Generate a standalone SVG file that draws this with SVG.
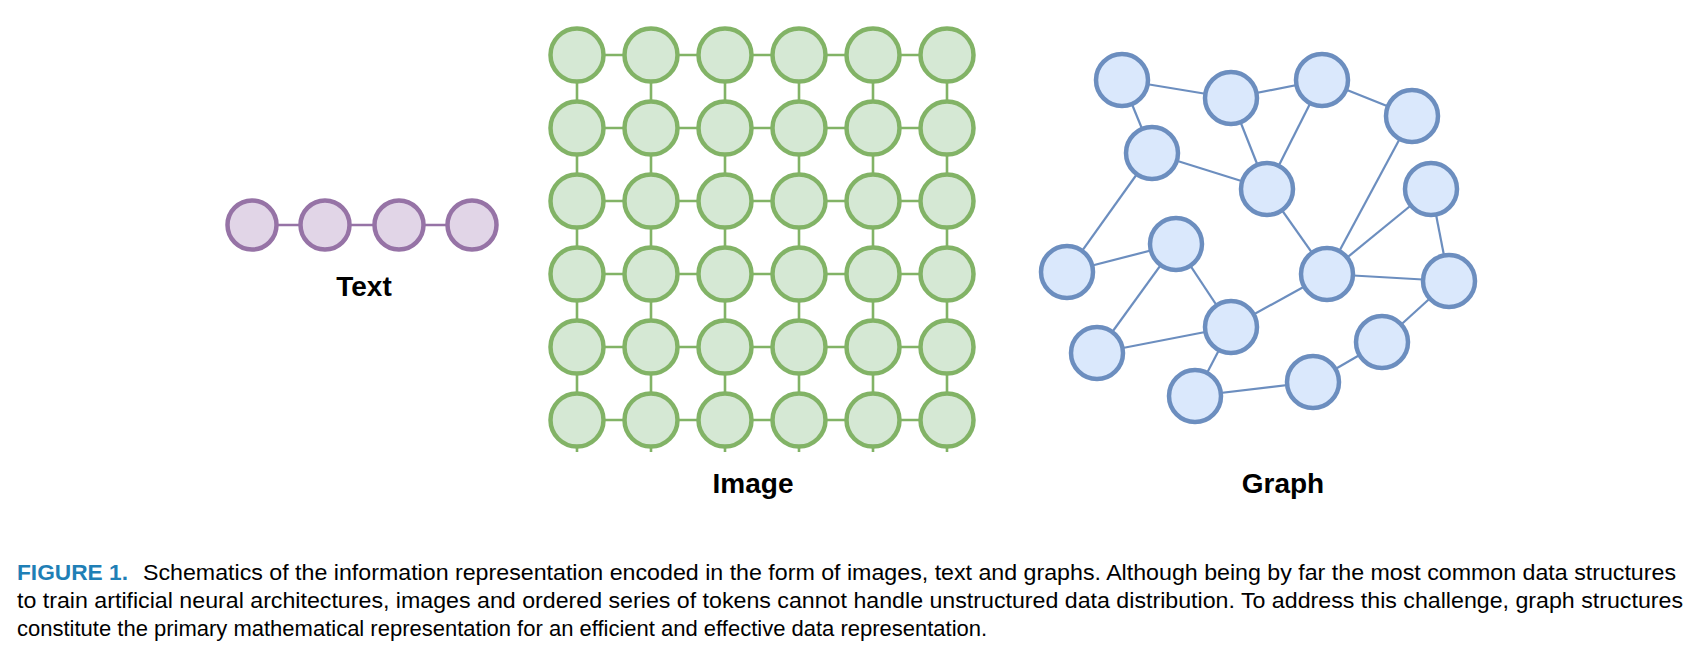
<svg xmlns="http://www.w3.org/2000/svg" width="1706" height="662" viewBox="0 0 1706 662">
<style>
.bg{fill:#ffffff}
.tn{fill:#e1d5e7;stroke:#9673a6;stroke-width:4.5}
.tl{stroke:#9673a6;stroke-width:2.6;fill:none}
.gn{fill:#d5e8d4;stroke:#82b366;stroke-width:4.5}
.gl{stroke:#82b366;stroke-width:2.6;fill:none}
.bn{fill:#dae8fc;stroke:#6c8ebf;stroke-width:4.5}
.bl{stroke:#6c8ebf;stroke-width:2.2;fill:none}
.lab{font-family:"Liberation Sans",Arial,sans-serif;font-weight:bold;font-size:28px;fill:#000;text-anchor:middle}
.cap{font-family:"Liberation Sans",Arial,sans-serif;font-size:22px;fill:#000}
.fig{font-weight:bold;fill:#1f7fb6}
</style>
<rect class="bg" x="0" y="0" width="1706" height="662"/>
<g id="connectors">
  <g id="text-edges">
    <line class="tl" x1="252" y1="225" x2="472" y2="225"/>
  </g>
  <g id="image-edges">
    <line class="gl" x1="577" y1="55" x2="947" y2="55"/>
    <line class="gl" x1="577" y1="128" x2="947" y2="128"/>
    <line class="gl" x1="577" y1="201" x2="947" y2="201"/>
    <line class="gl" x1="577" y1="274" x2="947" y2="274"/>
    <line class="gl" x1="577" y1="347" x2="947" y2="347"/>
    <line class="gl" x1="577" y1="420" x2="947" y2="420"/>
    <line class="gl" x1="577" y1="55" x2="577" y2="452"/>
    <line class="gl" x1="651" y1="55" x2="651" y2="452"/>
    <line class="gl" x1="725" y1="55" x2="725" y2="452"/>
    <line class="gl" x1="799" y1="55" x2="799" y2="452"/>
    <line class="gl" x1="873" y1="55" x2="873" y2="452"/>
    <line class="gl" x1="947" y1="55" x2="947" y2="452"/>
  </g>
  <g id="graph-edges">
    <line class="bl" x1="1122" y1="80" x2="1231" y2="98"/>
    <line class="bl" x1="1231" y1="98" x2="1322" y2="80"/>
    <line class="bl" x1="1322" y1="80" x2="1412" y2="116"/>
    <line class="bl" x1="1122" y1="80" x2="1152" y2="153"/>
    <line class="bl" x1="1231" y1="98" x2="1267" y2="189"/>
    <line class="bl" x1="1322" y1="80" x2="1267" y2="189"/>
    <line class="bl" x1="1152" y1="153" x2="1267" y2="189"/>
    <line class="bl" x1="1152" y1="153" x2="1067" y2="272"/>
    <line class="bl" x1="1412" y1="116" x2="1327" y2="274"/>
    <line class="bl" x1="1431" y1="189" x2="1327" y2="274"/>
    <line class="bl" x1="1431" y1="189" x2="1449" y2="281"/>
    <line class="bl" x1="1267" y1="189" x2="1327" y2="274"/>
    <line class="bl" x1="1327" y1="274" x2="1449" y2="281"/>
    <line class="bl" x1="1067" y1="272" x2="1176" y2="244"/>
    <line class="bl" x1="1176" y1="244" x2="1097" y2="353"/>
    <line class="bl" x1="1176" y1="244" x2="1231" y2="327"/>
    <line class="bl" x1="1097" y1="353" x2="1231" y2="327"/>
    <line class="bl" x1="1231" y1="327" x2="1327" y2="274"/>
    <line class="bl" x1="1231" y1="327" x2="1195" y2="396"/>
    <line class="bl" x1="1195" y1="396" x2="1313" y2="382"/>
    <line class="bl" x1="1313" y1="382" x2="1382" y2="342"/>
    <line class="bl" x1="1382" y1="342" x2="1449" y2="281"/>
  </g>
</g>
<g id="text-nodes">
  <g id="t1"><circle class="tn" cx="252" cy="225" r="24.5"/></g>
  <g id="t2"><circle class="tn" cx="325" cy="225" r="24.5"/></g>
  <g id="t3"><circle class="tn" cx="399" cy="225" r="24.5"/></g>
  <g id="t4"><circle class="tn" cx="472" cy="225" r="24.5"/></g>
</g>
<g id="image-nodes">
  <g id="i11"><circle class="gn" cx="577" cy="55" r="26.5"/></g>
  <g id="i12"><circle class="gn" cx="651" cy="55" r="26.5"/></g>
  <g id="i13"><circle class="gn" cx="725" cy="55" r="26.5"/></g>
  <g id="i14"><circle class="gn" cx="799" cy="55" r="26.5"/></g>
  <g id="i15"><circle class="gn" cx="873" cy="55" r="26.5"/></g>
  <g id="i16"><circle class="gn" cx="947" cy="55" r="26.5"/></g>
  <g id="i21"><circle class="gn" cx="577" cy="128" r="26.5"/></g>
  <g id="i22"><circle class="gn" cx="651" cy="128" r="26.5"/></g>
  <g id="i23"><circle class="gn" cx="725" cy="128" r="26.5"/></g>
  <g id="i24"><circle class="gn" cx="799" cy="128" r="26.5"/></g>
  <g id="i25"><circle class="gn" cx="873" cy="128" r="26.5"/></g>
  <g id="i26"><circle class="gn" cx="947" cy="128" r="26.5"/></g>
  <g id="i31"><circle class="gn" cx="577" cy="201" r="26.5"/></g>
  <g id="i32"><circle class="gn" cx="651" cy="201" r="26.5"/></g>
  <g id="i33"><circle class="gn" cx="725" cy="201" r="26.5"/></g>
  <g id="i34"><circle class="gn" cx="799" cy="201" r="26.5"/></g>
  <g id="i35"><circle class="gn" cx="873" cy="201" r="26.5"/></g>
  <g id="i36"><circle class="gn" cx="947" cy="201" r="26.5"/></g>
  <g id="i41"><circle class="gn" cx="577" cy="274" r="26.5"/></g>
  <g id="i42"><circle class="gn" cx="651" cy="274" r="26.5"/></g>
  <g id="i43"><circle class="gn" cx="725" cy="274" r="26.5"/></g>
  <g id="i44"><circle class="gn" cx="799" cy="274" r="26.5"/></g>
  <g id="i45"><circle class="gn" cx="873" cy="274" r="26.5"/></g>
  <g id="i46"><circle class="gn" cx="947" cy="274" r="26.5"/></g>
  <g id="i51"><circle class="gn" cx="577" cy="347" r="26.5"/></g>
  <g id="i52"><circle class="gn" cx="651" cy="347" r="26.5"/></g>
  <g id="i53"><circle class="gn" cx="725" cy="347" r="26.5"/></g>
  <g id="i54"><circle class="gn" cx="799" cy="347" r="26.5"/></g>
  <g id="i55"><circle class="gn" cx="873" cy="347" r="26.5"/></g>
  <g id="i56"><circle class="gn" cx="947" cy="347" r="26.5"/></g>
  <g id="i61"><circle class="gn" cx="577" cy="420" r="26.5"/></g>
  <g id="i62"><circle class="gn" cx="651" cy="420" r="26.5"/></g>
  <g id="i63"><circle class="gn" cx="725" cy="420" r="26.5"/></g>
  <g id="i64"><circle class="gn" cx="799" cy="420" r="26.5"/></g>
  <g id="i65"><circle class="gn" cx="873" cy="420" r="26.5"/></g>
  <g id="i66"><circle class="gn" cx="947" cy="420" r="26.5"/></g>
</g>
<g id="graph-nodes">
  <g id="g1"><circle class="bn" cx="1122" cy="80" r="26"/></g>
  <g id="g2"><circle class="bn" cx="1231" cy="98" r="26"/></g>
  <g id="g3"><circle class="bn" cx="1322" cy="80" r="26"/></g>
  <g id="g4"><circle class="bn" cx="1412" cy="116" r="26"/></g>
  <g id="g5"><circle class="bn" cx="1152" cy="153" r="26"/></g>
  <g id="g6"><circle class="bn" cx="1267" cy="189" r="26"/></g>
  <g id="g7"><circle class="bn" cx="1431" cy="189" r="26"/></g>
  <g id="g8"><circle class="bn" cx="1176" cy="244" r="26"/></g>
  <g id="g9"><circle class="bn" cx="1067" cy="272" r="26"/></g>
  <g id="g10"><circle class="bn" cx="1327" cy="274" r="26"/></g>
  <g id="g11"><circle class="bn" cx="1449" cy="281" r="26"/></g>
  <g id="g12"><circle class="bn" cx="1097" cy="353" r="26"/></g>
  <g id="g13"><circle class="bn" cx="1231" cy="327" r="26"/></g>
  <g id="g14"><circle class="bn" cx="1382" cy="342" r="26"/></g>
  <g id="g15"><circle class="bn" cx="1195" cy="396" r="26"/></g>
  <g id="g16"><circle class="bn" cx="1313" cy="382" r="26"/></g>
</g>
<g id="labels">
  <text class="lab" x="364" y="296">Text</text>
  <text class="lab" x="753" y="493">Image</text>
  <text class="lab" x="1283" y="493">Graph</text>
</g>
<g id="caption">
  <text class="cap fig" x="17" y="580" textLength="111" lengthAdjust="spacingAndGlyphs">FIGURE 1.</text>
  <text class="cap" x="143" y="580" textLength="1533" lengthAdjust="spacingAndGlyphs">Schematics of the information representation encoded in the form of images, text and graphs. Although being by far the most common data structures</text>
  <text class="cap" x="17" y="608" textLength="1666" lengthAdjust="spacingAndGlyphs">to train artificial neural architectures, images and ordered series of tokens cannot handle unstructured data distribution. To address this challenge, graph structures</text>
  <text class="cap" x="17" y="636">constitute the primary mathematical representation for an efficient and effective data representation.</text>
</g>
</svg>
